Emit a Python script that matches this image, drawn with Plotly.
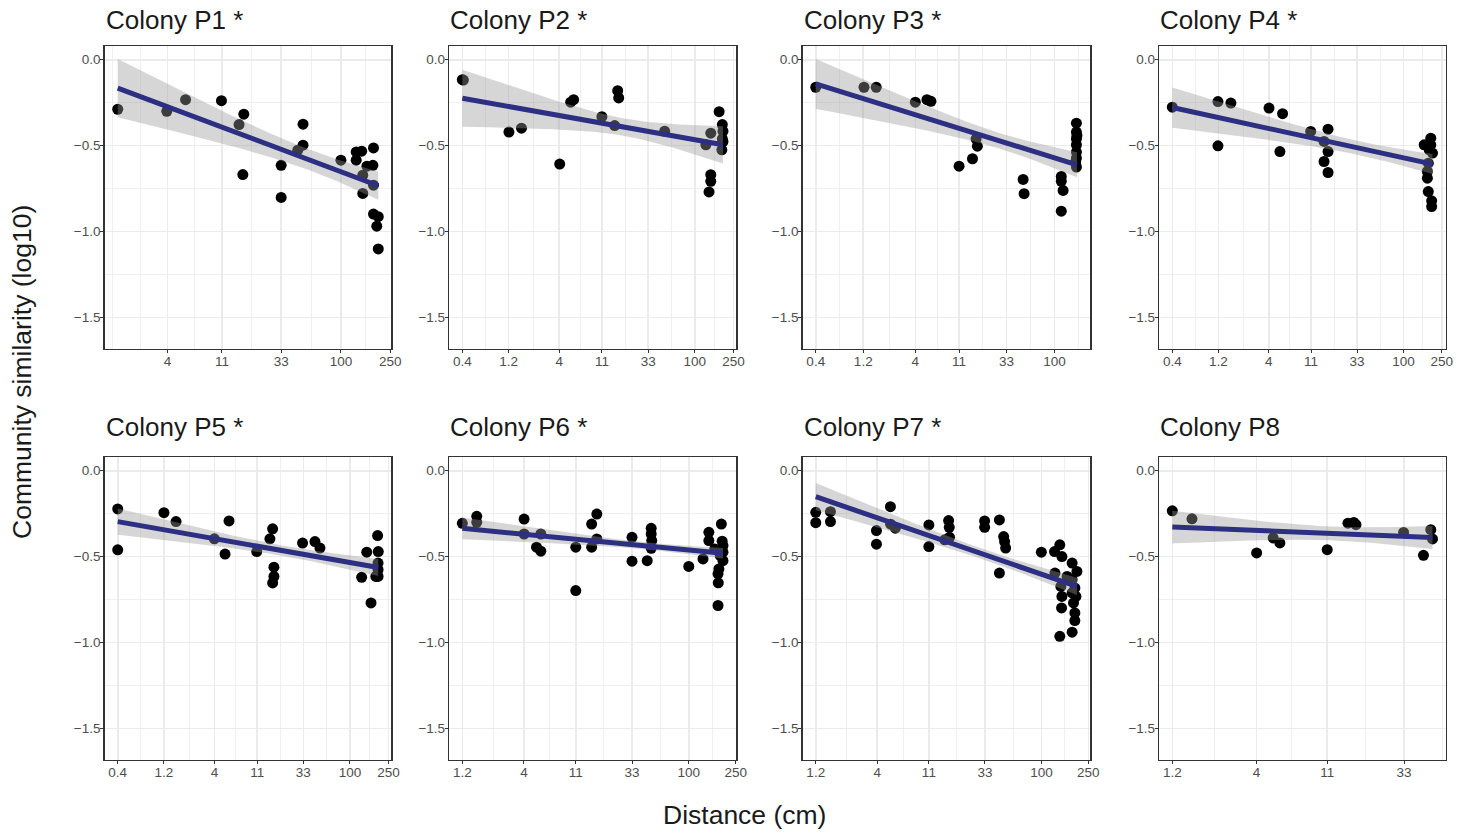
import numpy as np
import plotly.graph_objects as go

W, H = 1472, 834
FONT = "Liberation Sans, Arial, Helvetica, sans-serif"

# ---------------- data ----------------
titles = ["Colony P1 *", "Colony P2 *", "Colony P3 *", "Colony P4 *",
          "Colony P5 *", "Colony P6 *", "Colony P7 *", "Colony P8"]

p1_dist = [1.59, 3.95, 5.6, 10.9, 15.1, 16.5, 16.2, 33, 33, 49.5, 49.5, 44.9, 100, 132.8, 147,
           132.8, 183, 162, 181, 150, 150, 183, 183, 200, 194.5, 200]
p1_sim = [-0.288, -0.300, -0.232, -0.238, -0.377, -0.317, -0.668, -0.614, -0.801, -0.375, -0.497,
          -0.526, -0.584, -0.536, -0.532, -0.584, -0.513, -0.619, -0.614, -0.672, -0.778, -0.730,
          -0.898, -0.913, -0.968, -1.101]

p2_dist = [0.4, 0.41, 1.21, 1.63, 4.04, 5.24, 5.62, 11.0, 14.9, 16.0, 16.4, 48.8, 130, 146, 146,
           146, 140, 178, 192, 195, 195, 190, 192]
p2_sim = [-0.116, -0.118, -0.421, -0.398, -0.607, -0.247, -0.232, -0.331, -0.383, -0.180, -0.222,
          -0.416, -0.495, -0.427, -0.669, -0.707, -0.769, -0.302, -0.377, -0.416, -0.476, -0.524,
          -0.460]

p3_dist = [0.4, 1.22, 1.62, 4.0, 5.23, 5.74, 11.0, 15.0, 16.3, 16.8, 48.4, 49.5, 117, 117, 122,
           117, 166, 166, 166, 166, 166, 166, 166, 163, 168]
p3_sim = [-0.160, -0.160, -0.160, -0.247, -0.232, -0.242, -0.619, -0.576, -0.460, -0.503, -0.696,
          -0.779, -0.679, -0.707, -0.760, -0.881, -0.369, -0.421, -0.460, -0.495, -0.537, -0.572,
          -0.624, -0.595, -0.441]

p4_dist = [0.4, 1.19, 1.62, 1.19, 4.03, 5.57, 5.23, 10.9, 15.0, 15.0, 16.5, 16.5, 16.5, 164, 192,
           192, 200, 181, 177, 177, 181, 196, 196, 185]
p4_sim = [-0.276, -0.243, -0.252, -0.501, -0.281, -0.314, -0.534, -0.417, -0.475, -0.592, -0.404,
          -0.534, -0.656, -0.495, -0.456, -0.495, -0.543, -0.602, -0.650, -0.689, -0.767, -0.821,
          -0.854, -0.524]

p5_dist = [0.4, 0.4, 1.20, 1.60, 3.98, 5.13, 5.64, 10.9, 14.9, 15.9, 16.4, 16.4, 15.9, 32.4, 43.5,
           49, 132, 149, 165, 193, 196, 195, 195, 195, 185]
p5_sim = [-0.222, -0.460, -0.244, -0.296, -0.396, -0.485, -0.292, -0.470, -0.396, -0.338, -0.561,
          -0.615, -0.653, -0.421, -0.412, -0.450, -0.620, -0.474, -0.769, -0.377, -0.470, -0.537,
          -0.576, -0.615, -0.615]

p6_dist = [1.2, 1.59, 1.59, 4.01, 4.01, 5.11, 5.56, 5.56, 11.0, 11.0, 15.0, 15.0, 16.6, 16.6, 33,
           33, 44.4, 48, 48, 48.5, 48, 100, 132, 148, 148, 166, 177, 178, 189, 192, 195, 195, 180,
           177, 195, 185]
p6_sim = [-0.306, -0.265, -0.300, -0.281, -0.368, -0.445, -0.468, -0.368, -0.445, -0.697, -0.310,
          -0.445, -0.252, -0.397, -0.387, -0.526, -0.523, -0.335, -0.368, -0.406, -0.451, -0.557,
          -0.513, -0.358, -0.406, -0.455, -0.784, -0.652, -0.310, -0.410, -0.474, -0.523, -0.571,
          -0.600, -0.435, -0.494]

p7_dist = [1.2, 1.2, 1.60, 1.60, 3.94, 3.94, 5.18, 5.2, 5.7, 11.0, 11.0, 15.0, 16.2, 16.4, 16.5,
           32.8, 32.8, 43.8, 43.8, 47.6, 48.5, 49.5, 99.6, 129, 143, 149, 130, 146, 149, 148, 143,
           182, 200, 182, 192, 196, 187, 192, 192, 182, 165, 182]
p7_sim = [-0.242, -0.302, -0.238, -0.296, -0.348, -0.427, -0.209, -0.311, -0.334, -0.315, -0.441,
          -0.402, -0.290, -0.329, -0.387, -0.292, -0.329, -0.286, -0.595, -0.383, -0.412, -0.450,
          -0.474, -0.470, -0.431, -0.499, -0.595, -0.673, -0.731, -0.798, -0.963, -0.537, -0.586,
          -0.634, -0.682, -0.731, -0.769, -0.827, -0.872, -0.939, -0.615, -0.711]

p8_dist = [1.2, 1.59, 4.01, 5.08, 5.59, 11.0, 14.8, 16.1, 16.6, 32.8, 43.6, 48.4, 49.6]
p8_sim = [-0.233, -0.280, -0.478, -0.391, -0.420, -0.459, -0.305, -0.301, -0.314, -0.359, -0.492,
          -0.343, -0.397]

# fitted line (y at smallest / largest distance) and confidence half-widths
fit_start = [-0.165, -0.224, -0.141, -0.278, -0.296, -0.335, -0.151, -0.328]
fit_end = [-0.733, -0.495, -0.611, -0.607, -0.563, -0.480, -0.673, -0.388]
ci_start = [0.170, 0.166, 0.145, 0.117, 0.077, 0.063, 0.079, 0.095]
ci_min = [0.060, 0.050, 0.045, 0.040, 0.030, 0.020, 0.030, 0.040]
ci_end = [0.082, 0.108, 0.073, 0.058, 0.049, 0.031, 0.050, 0.067]

x_tick_vals = [0.4, 1.2, 4, 11, 33, 100, 250]
x_tick_text = ["0.4", "1.2", "4", "11", "33", "100", "250"]
y_tick_vals = [0.0, -0.5, -1.0, -1.5]
y_tick_text = ["0.0", "\u22120.5", "\u22121.0", "\u22121.5"]
y_limits = [-1.6, 0.0]

distances = [p1_dist, p2_dist, p3_dist, p4_dist, p5_dist, p6_dist, p7_dist, p8_dist]
sims = [p1_sim, p2_sim, p3_sim, p4_sim, p5_sim, p6_sim, p7_sim, p8_sim]

# ---------------- layout geometry (pixels) ----------------
col_px = [(104.7, 391.3), (449.3, 736.0), (802.7, 1090.0), (1159.3, 1445.5)]
row_px = [(46.0, 348.5), (457.0, 759.5)]
title_y = [20, 427]

LINE_COL = "#2C2F82"
GRID = "#EBEBEB"
BORDER = "#333333"

yspan = y_limits[1] - y_limits[0]
y_range = [y_limits[0] - 0.05 * yspan, y_limits[1] + 0.05 * yspan]


def minor_breaks(majors_log, lo, hi):
    ext = list(majors_log)
    if len(ext) >= 2:
        if lo < ext[0]:
            ext = [ext[0] - (ext[1] - ext[0])] + ext
        if hi > ext[-1]:
            ext = ext + [ext[-1] + (ext[-1] - ext[-2])]
    out = []
    for a, b in zip(ext[:-1], ext[1:]):
        out += [a, (a + b) / 2]
    out.append(ext[-1])
    res = []
    for m in out:
        if lo <= m <= hi and min(abs(m - v) for v in majors_log) > 1e-9:
            res.append(m)
    return res


y_major = sorted(y_tick_vals)
y_minor = minor_breaks(y_major, y_range[0], y_range[1])

fig = go.Figure()
layout = {}
annotations = []

for i in range(8):
    r, c = divmod(i, 4)
    sfx = "" if i == 0 else str(i + 1)
    xn, yn = "x" + sfx, "y" + sfx
    d = np.array(distances[i], dtype=float)
    s = np.array(sims[i], dtype=float)
    u = np.log10(d)
    umin, umax = u.min(), u.max()
    pad = 0.05 * (umax - umin)
    xr = [umin - pad, umax + pad]

    maj_log = [np.log10(v) for v in x_tick_vals if xr[0] <= np.log10(v) <= xr[1]]
    x_minor = [10 ** m for m in minor_breaks(maj_log, xr[0], xr[1])]

    # points
    fig.add_trace(go.Scatter(x=d, y=s, mode="markers", xaxis=xn, yaxis=yn,
                             marker=dict(size=11, color="black", line=dict(width=0)),
                             hoverinfo="skip", showlegend=False))
    # confidence ribbon
    ug = np.linspace(umin, umax, 120)
    t = (ug - umin) / (umax - umin)
    center = fit_start[i] + (fit_end[i] - fit_start[i]) * t
    h0, h1, m = ci_start[i], ci_end[i], ci_min[i]
    rr = np.sqrt((h0 ** 2 - m ** 2) / (h1 ** 2 - m ** 2))
    uc = (umin + rr * umax) / (1 + rr)
    k = (h0 ** 2 - m ** 2) / (uc - umin) ** 2
    hw = np.sqrt(m ** 2 + k * (ug - uc) ** 2)
    xg = 10 ** ug
    fig.add_trace(go.Scatter(x=np.concatenate([xg, xg[::-1]]),
                             y=np.concatenate([center + hw, (center - hw)[::-1]]),
                             mode="lines", fill="toself", fillcolor="rgba(153,153,153,0.4)",
                             line=dict(width=0), xaxis=xn, yaxis=yn,
                             hoverinfo="skip", showlegend=False))
    # fitted line
    fig.add_trace(go.Scatter(x=[d.min(), d.max()], y=[fit_start[i], fit_end[i]],
                             mode="lines", line=dict(color=LINE_COL, width=5),
                             xaxis=xn, yaxis=yn, hoverinfo="skip", showlegend=False))

    c0, c1 = col_px[c]
    r0, r1 = row_px[r]
    common = dict(showline=True, linecolor=BORDER, linewidth=1.5, mirror=True,
                  ticks="outside", ticklen=3, tickwidth=1, tickcolor=BORDER,
                  tickfont=dict(family=FONT, size=13.5, color="#4D4D4D"),
                  ticklabelstandoff=-3,
                  showgrid=True, gridcolor=GRID, gridwidth=1.6, zeroline=False,
                  automargin=False)
    layout["xaxis" + sfx] = dict(type="log", range=xr, domain=[c0 / W, c1 / W], anchor=yn,
                                 tickmode="array", tickvals=x_tick_vals, ticktext=x_tick_text,
                                 minor=dict(tickmode="array", tickvals=x_minor, showgrid=True,
                                            gridcolor=GRID, gridwidth=0.8, ticks=""),
                                 **common)
    layout["yaxis" + sfx] = dict(range=y_range, domain=[1 - r1 / H, 1 - r0 / H], anchor=xn,
                                 tickmode="array", tickvals=y_tick_vals, ticktext=y_tick_text,
                                 minor=dict(tickmode="array", tickvals=y_minor, showgrid=True,
                                            gridcolor=GRID, gridwidth=0.8, ticks=""),
                                 **common)
    annotations.append(dict(text=titles[i], xref="paper", yref="paper",
                            x=(c0 - 1) / W, y=1 - title_y[r] / H, xanchor="left",
                            yanchor="middle", showarrow=False,
                            font=dict(family=FONT, size=26, color="#1A1A1A")))

annotations.append(dict(text="Community similarity (log10)", xref="paper", yref="paper",
                        x=22 / W, y=1 - 372 / H, xanchor="center", yanchor="middle",
                        textangle=-90, showarrow=False,
                        font=dict(family=FONT, size=26.5, color="#1A1A1A")))
annotations.append(dict(text="Distance (cm)", xref="paper", yref="paper",
                        x=744 / W, y=1 - 815 / H, xanchor="center", yanchor="middle",
                        showarrow=False, font=dict(family=FONT, size=26.5, color="#1A1A1A")))

fig.update_layout(width=W, height=H, autosize=False,
                  margin=dict(l=0, r=0, t=0, b=0, pad=0),
                  plot_bgcolor="white", paper_bgcolor="white",
                  showlegend=False, annotations=annotations, **layout)

fig.write_html("out.html",
               config={"displayModeBar": False, "staticPlot": True},
               post_script="document.body.style.margin='0';"
                           "document.body.style.padding='0';"
                           "document.body.style.overflow='hidden';")
